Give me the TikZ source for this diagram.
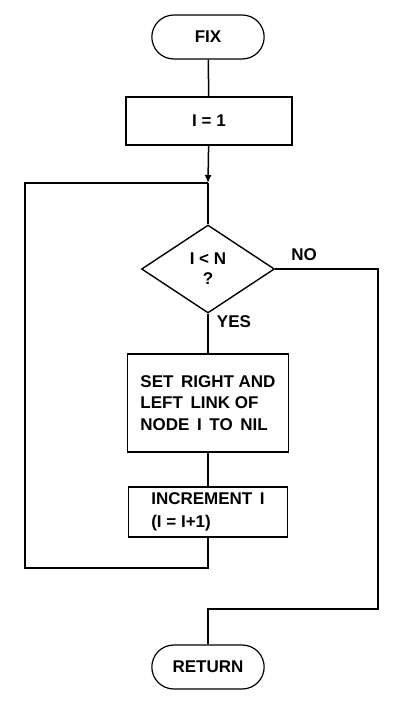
\documentclass[tikz,border=0pt]{standalone}
\usepackage{fontspec}
\setmainfont{Liberation Sans}
\usetikzlibrary{positioning,shapes.misc,shapes.geometric,arrows.meta}

\begin{document}
\begin{tikzpicture}[
  x=1pt, y=-1pt,  % reference pixel grid, y downwards
  flow/.style={line width=1.5pt, draw=black},
  terminal/.style={rounded rectangle, draw, line width=1.2pt, minimum width=119pt, minimum height=44pt, font=\bfseries\fontsize{17}{21}\selectfont},
  process/.style={rectangle, draw, line width=1.5pt, font=\bfseries\fontsize{17}{21.5}\selectfont},
  decision/.style={diamond, draw, line width=1.4pt, minimum width=133pt, minimum height=88pt, inner sep=0pt, align=center, font=\bfseries\fontsize{17}{20}\selectfont},
  tag/.style={font=\bfseries\fontsize{17}{20}\selectfont}
]
\useasboundingbox (0,0) rectangle (400,705);

% ---------- nodes ----------
\node[terminal] (fix) at (208,37) {FIX};
\node[process, minimum width=166pt, minimum height=48pt] (init) at (209,121) {I = 1};
\coordinate (join) at (208,183);
\node[decision] (test) at (208,269) {I {<} N\\?};
\node[process, minimum width=161pt, minimum height=98pt, align=left] (clear) at (208,403)
  {SET\, RIGHT AND\\LEFT\, LINK OF\\NODE\, I\, TO\, NIL};
\node[process, minimum width=159pt, minimum height=50pt, align=left, font=\bfseries\fontsize{17}{23}\selectfont] (incr) at (208,512)
  {INCREMENT\, I\\(I = I+1)};
\node[terminal] (ret) at (208,667) {RETURN};

% ---------- loop corners ----------
\coordinate (lbot) at (25,568);
\coordinate (nbot) at (378,609);

% ---------- connectors ----------
\draw[flow] (fix) -- (init);
\draw[flow, -{Latex[length=8pt, width=7pt]}] (init) -- (join);
\draw[flow] (join) -- (test);
\draw[flow] (test) -- (clear);
\draw[flow] (clear) -- (incr);
\draw[flow] (incr) |- (lbot) |- (join);
\draw[flow] (test.east) -| (nbot) -| (ret);

% ---------- branch labels ----------
\node[tag] (no) at (304,255) {NO};
\node[tag] (yes) at (234,322) {YES};

\end{tikzpicture}
\end{document}
